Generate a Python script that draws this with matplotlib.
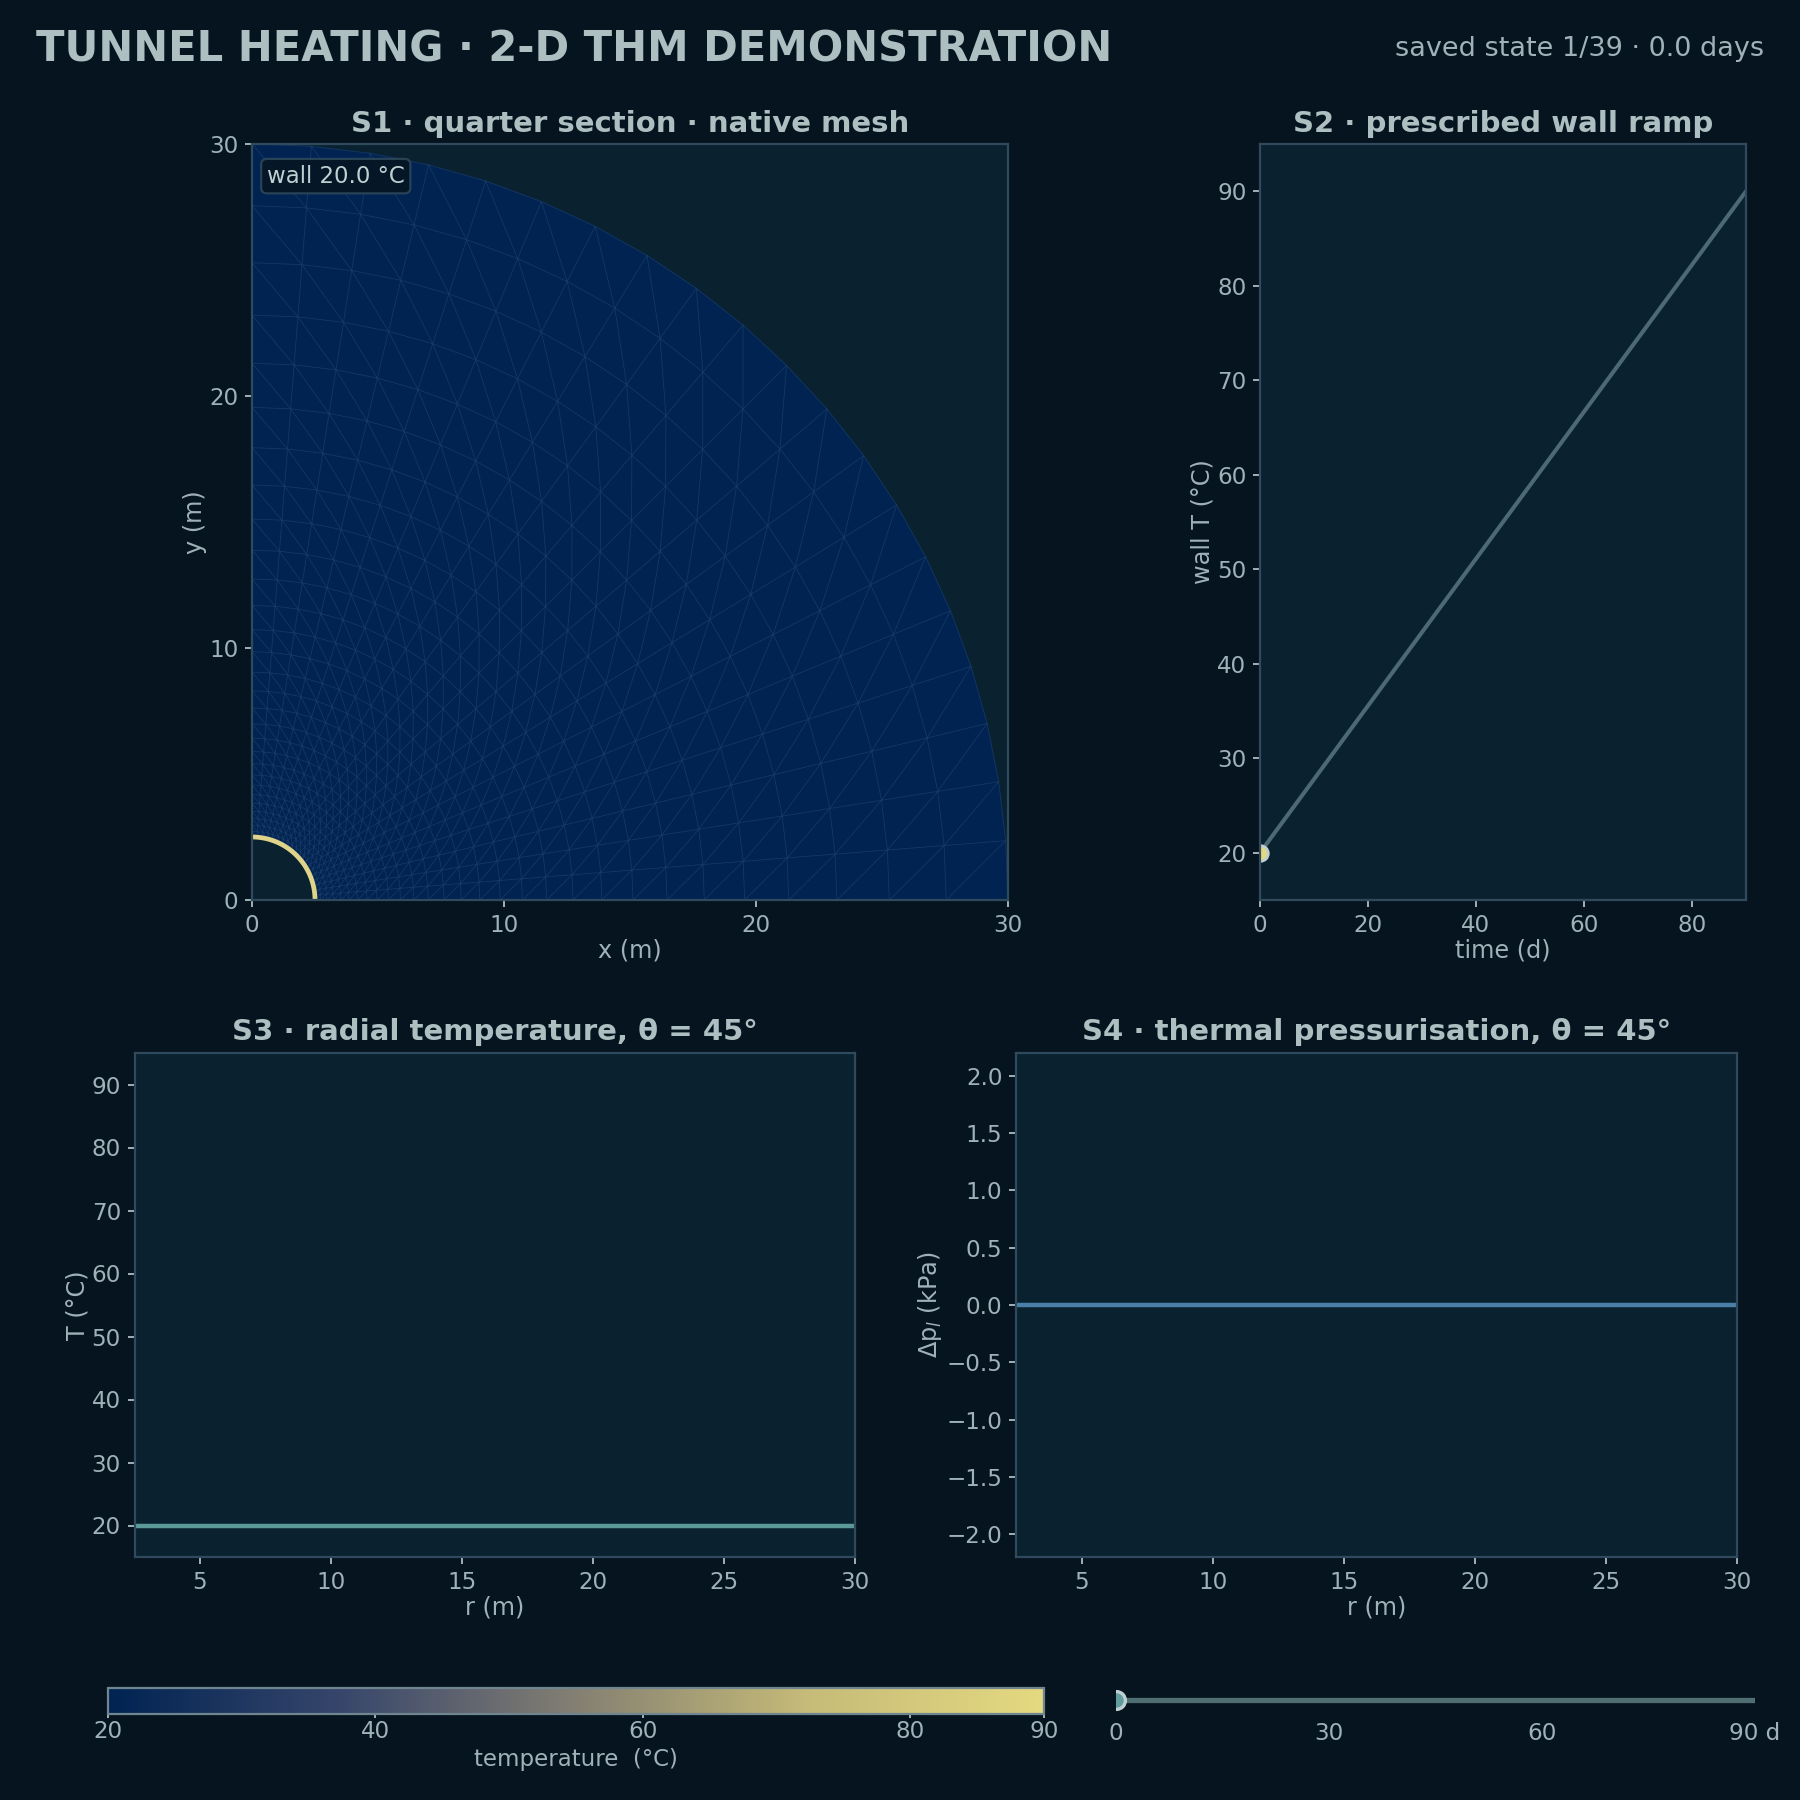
"""Tunnel heating THM dashboard, first saved state (t = 0 d)."""

import matplotlib

matplotlib.use("Agg")

import matplotlib.pyplot as plt
import matplotlib.tri as mtri
import numpy as np
from matplotlib.cm import ScalarMappable
from matplotlib.colors import LinearSegmentedColormap, Normalize

BG = "#06141f"
PANEL = "#0a2230"
SPINE = "#2f4a5c"
TEXT = "#9fb2b8"
TITLE = "#aebfc1"

# graded rings of the quarter section (m)
ring_radii = [
    2.50, 2.72, 2.97, 3.23, 3.52, 3.84, 4.18, 4.56, 4.96, 5.41,
    5.89, 6.42, 6.99, 7.62, 8.30, 9.04, 9.85, 10.73, 11.69, 12.74,
    13.88, 15.12, 16.47, 17.95, 19.55, 21.30, 23.21, 25.29, 27.55, 30.00,
]
n_sectors = 20

wall_temp = 20.0
current_day = 0.0

ramp_days = [0, 90]
ramp_temp = [20, 90]

profile_r = [2.5, 30.0]
profile_temp = [20.0, 20.0]
profile_dp = [0.0, 0.0]

s1_ticks = [0, 10, 20, 30]
s2_xticks = [0, 20, 40, 60, 80]
temp_ticks = [20, 30, 40, 50, 60, 70, 80, 90]
r_ticks = [5, 10, 15, 20, 25, 30]
dp_ticks = [-2.0, -1.5, -1.0, -0.5, 0.0, 0.5, 1.0, 1.5, 2.0]
cbar_ticks = [20, 40, 60, 80, 90]
slider_ticks = [0, 30, 60, 90]
slider_labels = ["0", "30", "60", "90 d"]

cmap_colors = ["#002352", "#37466b", "#847f72", "#c6bb78", "#e4d880"]

W = H = 1800.0


def px_axes(fig, left, top, right, bottom):
    """Add axes from pixel edges measured from the top-left corner."""
    return fig.add_axes(
        [left / W, 1 - bottom / H, (right - left) / W, (bottom - top) / H]
    )


def style(ax, title=None, xlabel=None, ylabel=None):
    ax.set_facecolor(PANEL)
    for spine in ax.spines.values():
        spine.set_color(SPINE)
        spine.set_linewidth(0.8)
    ax.tick_params(colors=TEXT, labelsize=8.3, length=2.5, width=0.7, pad=2.4)
    if title:
        ax.set_title(title, color=TITLE, fontsize=10.5, fontweight="bold", pad=4.5)
    if xlabel:
        ax.set_xlabel(xlabel, color=TEXT, fontsize=8.65, labelpad=0.8)
    if ylabel:
        ax.set_ylabel(ylabel, color=TEXT, fontsize=8.65, labelpad=0.8)


def build_mesh():
    """Structured polar grid, each quad cut along the same diagonal."""
    radii = np.array(ring_radii)
    theta = np.linspace(0, np.pi / 2, n_sectors + 1)
    rr, tt = np.meshgrid(radii, theta, indexing="ij")
    x = (rr * np.cos(tt)).ravel()
    y = (rr * np.sin(tt)).ravel()
    n_t = n_sectors + 1
    tris = []
    for i in range(len(radii) - 1):
        for j in range(n_sectors):
            a = i * n_t + j
            b = a + 1
            c = a + n_t
            d = c + 1
            tris.append([a, d, c])
            tris.append([a, b, d])
    return mtri.Triangulation(x, y, np.array(tris))


plt.rcParams["font.family"] = "DejaVu Sans"
plt.rcParams["axes.unicode_minus"] = True

fig = plt.figure(figsize=(9, 9), dpi=200, facecolor=BG)
cmap = LinearSegmentedColormap.from_list("wall", cmap_colors)
norm = Normalize(20, 90)

fig.text(36 / W, 1 - 50 / H, "TUNNEL HEATING · 2-D THM DEMONSTRATION", color=TITLE,
         fontsize=15.0, fontweight="bold", va="center", ha="left")
fig.text(1764 / W, 1 - 49 / H, "saved state 1/39 · 0.0 days", color=TEXT,
         fontsize=9.75, va="center", ha="right")

# S1: mesh coloured by temperature
ax1 = px_axes(fig, 252, 144, 1008, 900)
style(ax1, "S1 · quarter section · native mesh", "x (m)", "y (m)")
tri = build_mesh()
node_temp = np.full(tri.x.shape, wall_temp)
ax1.tripcolor(tri, node_temp, cmap=cmap, norm=norm, shading="gouraud")
ax1.triplot(tri, color="#a9c0d8", lw=0.3, alpha=0.13)
arc = np.linspace(0, np.pi / 2, 120)
ax1.plot(ring_radii[0] * np.cos(arc), ring_radii[0] * np.sin(arc),
         color="#e0d48a", lw=1.7, solid_capstyle="butt")
ax1.set_xlim(0, 30)
ax1.set_ylim(0, 30)
ax1.set_xticks(s1_ticks)
ax1.set_yticks(s1_ticks)
ax1.text(0.0197, 0.9575, f"wall {wall_temp:.1f} °C", transform=ax1.transAxes,
         color="#c0d0d2", fontsize=8.25, va="center", ha="left",
         bbox=dict(boxstyle="round,pad=0.25", fc=BG, ec=SPINE, lw=0.8, alpha=0.85))

# S2: wall ramp
ax2 = px_axes(fig, 1260, 144, 1746, 900)
style(ax2, "S2 · prescribed wall ramp", "time (d)", "wall T (°C)")
ax2.plot(ramp_days, ramp_temp, color="#4d6975", lw=1.45)
ax2.plot([current_day], [wall_temp], "o", color="#e4d880", ms=5.6,
         mec="#c0d0d2", mew=1.0)
ax2.set_xlim(0, 90)
ax2.set_ylim(15, 95)
ax2.set_xticks(s2_xticks)
ax2.set_yticks(temp_ticks)

# S3: radial temperature
ax3 = px_axes(fig, 134.5, 1053, 855, 1557)
style(ax3, "S3 · radial temperature, θ = 45°", "r (m)", "T (°C)")
ax3.plot(profile_r, profile_temp, color="#5c9a9a", lw=1.6)
ax3.set_xlim(2.5, 30)
ax3.set_ylim(15, 95)
ax3.set_xticks(r_ticks)
ax3.set_yticks(temp_ticks)

# S4: excess pore pressure
ax4 = px_axes(fig, 1016, 1053, 1737, 1557)
style(ax4, "S4 · thermal pressurisation, θ = 45°", "r (m)", "Δp$_l$ (kPa)")
ax4.plot(profile_r, profile_dp, color="#4a7fa8", lw=1.6)
ax4.set_xlim(2.5, 30)
ax4.set_ylim(-2.2, 2.2)
ax4.set_xticks(r_ticks)
ax4.set_yticks(dp_ticks)

# colour scale
cax = px_axes(fig, 108, 1688, 1044, 1714)
cbar = fig.colorbar(ScalarMappable(norm=norm, cmap=cmap), cax=cax,
                    orientation="horizontal")
cbar.set_ticks(cbar_ticks)
cbar.outline.set_edgecolor("#6f8590")
cbar.outline.set_linewidth(0.8)
cax.tick_params(colors=TEXT, labelsize=8.3, length=1.5, width=0.7, pad=0.8)
cbar.set_label("temperature  (°C)", color=TEXT, fontsize=8.25, labelpad=1.5)

# time slider
sax = px_axes(fig, 1116, 1688, 1755, 1712)
sax.set_facecolor("none")
for spine in sax.spines.values():
    spine.set_visible(False)
sax.plot([0, 90], [0, 0], color="#4f6f72", lw=1.9, solid_capstyle="butt")
sax.plot([current_day], [0], "o", color="#5f9e9c", ms=6.4, mec="#c0d0d2", mew=1.2)
sax.set_xlim(0, 90)
sax.set_ylim(-1, 1)
sax.set_yticks([])
sax.set_xticks(slider_ticks)
sax.set_xticklabels(slider_labels)
sax.tick_params(colors=TEXT, labelsize=8.3, length=0, pad=3.5)

fig.savefig("out.png", dpi=200, facecolor=BG)
